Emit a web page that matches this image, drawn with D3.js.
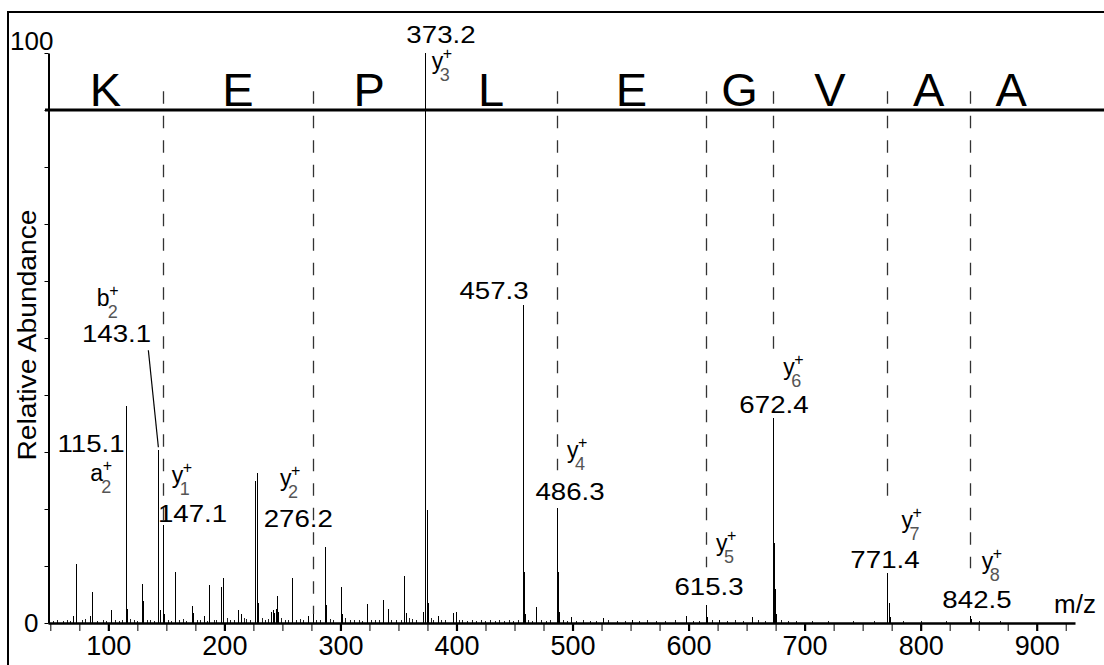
<!DOCTYPE html>
<html>
<head>
<meta charset="utf-8">
<script src="https://cdn.jsdelivr.net/npm/d3@7"></script>
<style>
  body { margin: 0; background: #fff; }
  svg text { font-family: "Liberation Sans", Arial, sans-serif; fill: #000; }
</style>
</head>
<body>
<svg id="chart" width="1104" height="665"></svg>
<script>
// ---- peptide sequence and fragment boundaries (m/z) ----
const residues = ["K", "E", "P", "L", "E", "G", "V", "A", "A"];
const residueBounds = [48, 147.1, 276.2, 373.2, 486.3, 615.3, 672.4, 771.4, 842.5, 913.5];
const cleavageMz = [147.1, 276.2, 486.3, 615.3, 672.4, 771.4, 842.5];
const cleavageDashEnd = [17.2, 1.6, 26.8, 9.8, 47.9, 20.4, 9.6];

// ---- centroided spectrum: m/z and relative abundance (%) ----
const peakMz = [69.8, 72.0, 84.2, 86.0, 102.3, 115.1, 116.1, 129.1, 130.1, 143.1, 144.1, 147.1, 148.1,
  157.5, 171.9, 173.0, 182.7, 187.0, 197.1, 199.1, 211.5, 214.3, 226.6, 228.0, 229.0, 240.1, 241.6,
  243.0, 244.1, 245.1, 246.1, 258.0, 272.4, 276.2, 286.7, 287.7, 300.3, 301.3, 322.7, 337.0, 340.8,
  355.1, 356.1, 370.9, 373.2, 374.2, 375.2, 383.8, 397.3, 399.3, 457.3, 458.3, 459.3, 468.5, 486.3,
  487.3, 488.3, 498.4, 526.3, 551.0, 597.5, 615.3, 616.3, 626.5, 654.4, 672.4, 673.4, 674.4, 675.4,
  771.4, 772.4, 773.4, 842.5, 843.5];
const peakIntensity = [1.3, 10.4, 1.3, 5.4, 2.2, 38.1, 2.5, 6.9, 3.8, 30.3, 2.3, 17.2, 1.5,
  8.9, 3.0, 1.8, 1.2, 6.7, 6.4, 7.9, 2.3, 1.5, 24.9, 26.3, 3.5, 2.0, 2.3,
  1.8, 2.5, 4.8, 2.0, 7.9, 1.3, 1.6, 13.3, 3.2, 6.4, 1.5, 3.4, 4.0, 2.5,
  8.3, 1.8, 1.9, 100, 19.9, 3.5, 1.3, 1.8, 2.0, 55.8, 8.9, 1.5, 2.8, 20.1,
  9.0, 2.0, 1.0, 0.9, 0.6, 1.3, 3.2, 1.0, 0.6, 1.0, 36.0, 14.0, 6.0, 1.5,
  8.7, 3.5, 1.0, 1.2, 0.7];

// chemical noise along the baseline
const noiseMz = [52, 56, 61, 64, 67, 77, 80, 90.5, 95, 98, 106, 109, 112, 119, 122, 125, 133, 136, 139,
  151, 154, 161, 164, 167, 176, 179, 185, 191, 193, 202, 205, 208, 217, 219, 222, 232, 235, 238, 249,
  252, 255, 262, 265, 268, 279, 282, 291, 294, 304, 308, 312, 316, 319, 326, 330, 333, 344, 348, 352,
  359, 362, 365, 378, 380, 387, 390, 402, 405, 409, 413, 417, 421, 425, 429, 433, 437, 441, 445, 449,
  453, 462, 465, 473, 477, 481, 492, 495, 503, 509, 515, 520, 531, 538, 545, 557, 564, 572, 580, 588,
  604, 609, 620, 633, 640, 647, 660, 666, 680, 686, 693, 706, 720, 742, 760, 785, 800, 822, 850, 868];
const noiseIntensity = [0.4, 0.6, 0.3, 0.5, 0.4, 0.5, 0.7, 0.4, 0.5, 0.3, 0.6, 0.4, 0.5, 0.7, 0.5, 0.4, 0.6, 0.5, 0.4,
  0.6, 0.4, 0.5, 0.7, 0.4, 0.6, 0.5, 0.4, 0.6, 0.5, 0.8, 0.6, 0.5, 0.9, 0.7, 0.6, 0.8, 0.5, 0.7, 0.9,
  0.6, 0.5, 0.6, 0.7, 0.5, 0.6, 0.5, 0.7, 0.5, 0.8, 0.5, 0.6, 0.5, 0.4, 0.6, 0.5, 0.6, 0.5, 0.6, 0.5,
  0.8, 0.7, 0.5, 0.9, 0.6, 0.5, 0.6, 0.6, 0.5, 0.4, 0.5, 0.4, 0.5, 0.4, 0.5, 0.4, 0.5, 0.4, 0.5, 0.4,
  0.5, 0.6, 0.4, 0.5, 0.4, 0.5, 0.6, 0.4, 0.4, 0.5, 0.4, 0.4, 0.5, 0.4, 0.4, 0.4, 0.5, 0.4, 0.4, 0.5,
  0.4, 0.4, 0.5, 0.4, 0.5, 0.4, 0.5, 0.4, 0.6, 0.4, 0.4, 0.3, 0.4, 0.3, 0.3, 0.4, 0.3, 0.3, 0.3, 0.3];

// ---- annotated fragment ions ----
const labelMz = [115.1, 143.1, 147.1, 276.2, 373.2, 457.3, 486.3, 615.3, 672.4, 771.4, 842.5];
const ionSeries = ["a", "b", "y", "y", "y", "", "y", "y", "y", "y", "y"];
const ionNumber = ["2", "2", "1", "2", "3", "", "4", "5", "6", "7", "8"];

// ---- axis ticks ----
const xMinorTicks = d3.range(50, 926, 25);
const xTickLabels = [100, 200, 300, 400, 500, 600, 700, 800, 900];
const yTicks = d3.range(0, 101, 10);
const yTickLabels = [0, 100];

// label placement: [value dx from peak, value baseline dy from peak top, ion dx from peak, ion baseline dy from value baseline]
const labelLayout = [
  [-34.8, 45.9, -35.5, 29.5],
  [-41.8, -108.6, -61.5, -36],
  [29.5, -3.3, 8.7, -38.7],
  [-14.5, -87.2, -32.8, -40.7],
  [15.6, -10, 6.3, 26],
  [-28.9, -5.9, 0, 0],
  [13.4, -8.4, 10.4, -42.5],
  [2.7, -9.8, 9.7, -44],
  [1.4, -4.8, 10.7, -38],
  [-2.5, -5.4, 14, -40.5],
  [7, -8.2, 11.7, -39]
];

const svg = d3.select("#chart");
const x = d3.scaleLinear().domain([48, 933]).range([48, 1075]);
const y = d3.scaleLinear().domain([0, 100]).range([623, 53]);

// outer frame
svg.append("rect").attr("x", 8).attr("y", 12).attr("width", 1200).attr("height", 700)
  .attr("fill", "none").attr("stroke", "#000").attr("stroke-width", 2);

// sequence bar
svg.append("line").attr("x1", x(48) - 3).attr("x2", 1110).attr("y1", y(90)).attr("y2", y(90))
  .attr("stroke", "#000").attr("stroke-width", 3);

svg.append("g").selectAll("text").data(residues).join("text")
  .attr("x", (d, i) => (x(residueBounds[i]) + x(residueBounds[i + 1])) / 2)
  .attr("y", y(90) - 4)
  .attr("text-anchor", "middle")
  .attr("font-size", 47)
  .text(d => d);

// cleavage sites
svg.append("g").selectAll("line").data(cleavageMz).join("line")
  .attr("x1", d => Math.round(x(d)) + 0.5).attr("x2", d => Math.round(x(d)) + 0.5)
  .attr("y1", y(93.3)).attr("y2", (d, i) => y(cleavageDashEnd[i]))
  .attr("stroke", "#333").attr("stroke-width", 1.3)
  .attr("stroke-dasharray", "12.5,12");

// noise and peaks
const stick = (g, mz, inten, color) => g.selectAll("line").data(mz).join("line")
  .attr("x1", d => Math.round(x(d)) + 0.5).attr("x2", d => Math.round(x(d)) + 0.5)
  .attr("y1", y(0)).attr("y2", (d, i) => y(inten[i]))
  .attr("stroke", color).attr("stroke-width", 1)
  .attr("shape-rendering", "crispEdges");
stick(svg.append("g"), noiseMz, noiseIntensity, "#222");
stick(svg.append("g"), peakMz, peakIntensity, "#000");

// y axis
const yAxis = svg.append("g").attr("transform", `translate(${x(48) + 0.5},0)`)
  .call(d3.axisLeft(y).tickValues(yTicks).tickSize(4).tickSizeOuter(0).tickFormat(""));
yAxis.select(".domain").attr("stroke-width", 2);
yAxis.selectAll(".tick line").attr("stroke-width", 1);

svg.append("g").selectAll("text").data(yTickLabels).join("text")
  .attr("x", d => d === 100 ? 10 : 24)
  .attr("y", d => d === 100 ? 50 : 632)
  .attr("font-size", 26)
  .text(d => d);

// x axis
const xAxis = svg.append("g").attr("transform", `translate(0,${y(0)})`)
  .call(d3.axisBottom(x).tickValues(xMinorTicks).tickSize(8).tickSizeOuter(0)
    .tickFormat(d => xTickLabels.includes(d) ? d : ""));
xAxis.select(".domain").attr("stroke-width", 2.6);
xAxis.selectAll(".tick line").attr("stroke-width", d => d % 100 === 0 ? 2.2 : 1);
xAxis.selectAll(".tick text").attr("font-size", 27).attr("y", 32).attr("dy", 0)
  .attr("font-family", "'Liberation Sans', Arial, sans-serif");

svg.append("text").attr("x", 1054).attr("y", 613).attr("font-size", 26).text("m/z");

svg.append("text")
  .attr("transform", "translate(36,335) rotate(-90) scale(1.13,1)")
  .attr("text-anchor", "middle").attr("font-size", 25)
  .text("Relative Abundance");

// fragment annotations
const ann = svg.append("g");
labelMz.forEach((mz, i) => {
  const k = peakMz.indexOf(mz);
  const px = x(mz), top = y(peakIntensity[k]);
  const [vdx, vdy, idx, idy] = labelLayout[i];
  const bx = px + vdx, by = top + vdy;
  ann.append("text")
    .attr("transform", `translate(${bx},${by}) scale(1.13,1)`)
    .attr("text-anchor", "middle").attr("font-size", 24.5)
    .text(mz.toFixed(1));
  if (ionSeries[i]) {
    // ion type with charge superscript and index subscript
    const ix = px + idx, iy = by + idy;
    const isY = ionSeries[i] === "y";
    const t = ann.append("text").attr("x", ix).attr("y", iy).attr("font-size", 23);
    t.append("tspan").text(ionSeries[i]);
    t.append("tspan").attr("x", ix + (isY ? 11 : 12.5)).attr("y", iy - 10)
      .attr("font-size", 16).text("+");
    t.append("tspan").attr("x", ix + (isY ? 8 : 11)).attr("y", iy + 12)
      .attr("font-size", 18).style("fill", "#555").text(ionNumber[i]);
  }
});

// leader from the b2 label to its peak
const b2 = peakMz.indexOf(143.1);
ann.append("line")
  .attr("x1", x(143.1) - 10).attr("y1", y(peakIntensity[b2]) - 100)
  .attr("x2", x(143.1)).attr("y2", y(peakIntensity[b2]) - 3)
  .attr("stroke", "#000").attr("stroke-width", 1.2);
</script>
</body>
</html>
